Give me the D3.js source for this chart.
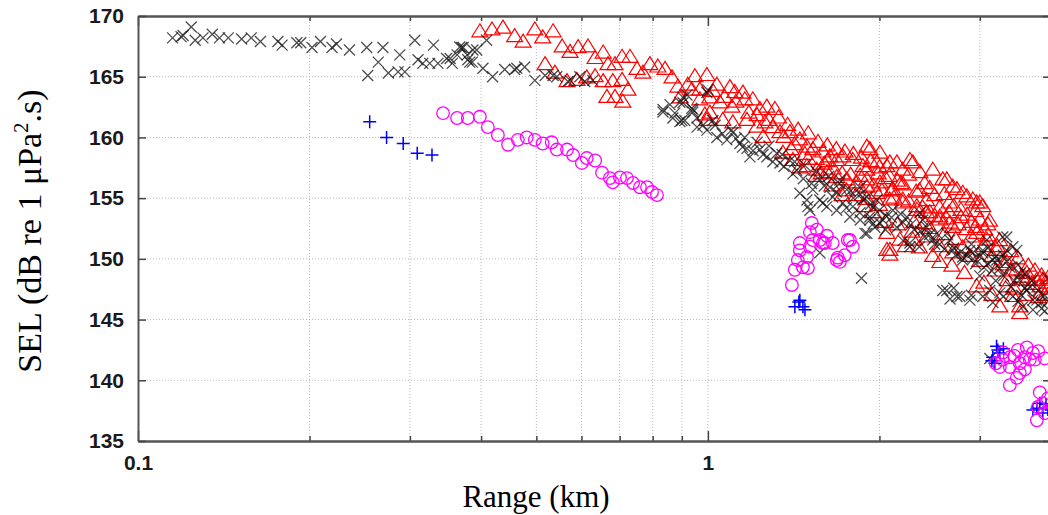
<!DOCTYPE html>
<html>
<head>
<meta charset="utf-8">
<script src="https://cdn.jsdelivr.net/npm/d3@7"></script>
<style>
  body { margin: 0; background: #fff; }
  svg { display: block; }
</style>
</head>
<body>
<div id="chart"></div>
<script>
// ---------------------------------------------------------------------
// data: [range (km), SEL (dB re 1 uPa^2.s)]

var blackX = [
  [0.115,168.2],[0.119,168.3],[0.120,168.4],[0.124,169.1],[0.126,168.0],[0.130,168.2],
  [0.135,168.5],[0.139,168.2],[0.144,168.2],[0.152,168.1],[0.158,168.2],[0.164,167.9],
  [0.176,167.9],[0.179,167.6],[0.190,167.8],[0.193,167.8],[0.202,167.4],[0.209,167.9],
  [0.219,167.4],[0.223,167.7],[0.235,167.2],[0.252,167.4],[0.264,166.2],[0.253,165.1],
  [0.269,167.4],[0.275,165.3],[0.288,166.8],[0.286,165.4],[0.294,165.4],[0.306,168.0],
  [0.310,166.4],[0.330,167.6],[0.316,166.1],[0.325,166.1],[0.336,166.1],[0.348,166.5],
  [0.356,166.1],[0.363,166.8],[0.370,167.4],[0.379,166.4],[0.387,167.2],[0.353,166.5],
  [0.372,167.4],[0.382,166.2],[0.367,167.45],[0.378,166.8],[0.386,166.2],[0.393,167.2],
  [0.409,168.0],[0.403,165.7],[0.419,165.0],[0.440,165.6],[0.458,165.6],[0.477,165.8],
  [0.497,164.7],[0.518,165.1],[0.543,165.0],[0.568,164.6],[0.596,165.0],[0.608,164.6],
  [0.462,165.7],[0.535,165.1],[0.573,164.7],[0.628,164.7],
  [0.834,162.1],[0.858,162.7],[0.893,162.9],[0.919,163.5],[0.868,161.6],[0.893,161.3],
  [0.941,162.1],[0.957,161.6],[0.996,163.7],[0.980,161.0],[0.834,162.3],[0.875,162.0],
  [0.900,161.4],[0.937,162.4],[0.904,163.3],[1.0,163.9],
  [0.904,162.85],[0.941,162.3],[0.911,161.4],[0.957,160.85],[0.996,160.6],[1.02,161.4],
  [1.037,160.0],[1.08,159.8],[1.106,160.4],[1.138,159.5],[1.171,159.1],[1.185,158.4],
  [1.234,159.0],[1.269,158.4],[1.321,158.7],[1.338,157.9],[1.393,158.1],[1.432,157.3],
  [1.45,155.4],[1.492,154.85],[1.498,154.3],[1.528,155.7],[1.572,154.85],[1.617,154.3],
  [1.656,155.1],[1.683,154.0],[1.725,154.6],[1.775,153.45],[1.796,154.3],[1.848,153.8],
  [1.886,152.1],[1.924,153.2],[1.963,152.6],[1.572,156.5],[1.637,155.9],[1.704,156.5],
  [1.753,155.7],[1.848,155.9],[1.901,155.1],[1.979,154.85],
  [1.51,154.0],[1.591,154.6],[2.028,153.2],[2.146,152.6],[2.262,151.3],[2.383,153.2],
  [2.522,152.1],[2.658,151.55],[2.80,149.9],[2.882,150.7],[3.036,150.5],[3.214,149.9],
  [3.346,151.8],[3.484,150.7],[3.526,148.8],[3.672,147.7],[3.778,146.6],[2.583,147.4],
  [2.735,146.9],[2.882,146.6],[3.036,146.9],[3.124,147.4],[1.572,150.5],[1.86,148.4],
  [3.124,141.8],
  [1.871,154.85],[1.924,153.45],[2.004,152.95],[1.901,152.1],[2.112,154.0],[2.234,153.45],
  [2.355,153.8],[2.262,151.0],[2.421,152.6],[2.481,151.55],[2.625,152.1],[2.69,150.7],
  [2.80,150.15],[2.917,150.5],[3.036,150.7],[3.087,151.55],[3.162,149.9],[3.292,151.8],
  [3.346,150.7],[3.428,151.0],[3.387,149.3],[3.526,148.25],[3.628,147.4],[3.718,146.6],
  [2.625,147.4],[2.768,146.9],[3.162,146.4],[3.253,147.2],[3.428,146.9],[3.569,146.05],
  [3.718,145.8],
  [1.06,160.3],[1.12,159.9],[1.15,159.2],[1.2,158.9],[1.25,158.6],[1.3,158.0],
  [1.36,157.6],[1.41,157.0],[1.47,156.6],[1.52,156.2],[1.6,156.0],[1.68,155.5],
  [1.8,155.0],[1.95,154.2],[2.05,153.6],[2.2,153.0],[2.3,152.4],[2.4,151.8],
  [2.55,151.2],[2.7,150.9],[2.85,150.3],[2.95,149.6],[3.05,149.3],[3.15,149.0],
  [3.3,148.6],[3.45,148.2],[3.6,147.6],[3.85,146.4],[3.3,150.3],[3.1,150.9],
  [2.9,151.2],[3.2,148.2],[3.4,147.7],[3.55,147.0],[3.9,145.7],
  [1.03,161.0],[1.1,160.6],[1.16,160.0],[1.22,159.6],[1.28,159.3],[1.35,158.6],
  [1.42,158.0],[1.48,157.7],[1.55,157.2],[1.63,156.8],[1.7,156.2],[1.78,155.6],
  [1.85,155.3],[1.93,154.5],[2.0,154.0],[2.1,153.4],[2.18,153.7],[2.27,152.8],
  [2.36,152.3],[2.45,152.0],[2.5,151.2],[2.6,150.8],[2.72,150.3],[2.78,150.6],
  [2.92,150.0],[3.0,150.2],[3.1,149.6],[3.2,150.2],[3.25,149.2],[3.35,149.8],
  [3.5,149.5],[3.6,148.8],[3.7,148.2],[3.8,147.4],[3.9,147.0],[3.0,148.6],
  [2.9,147.0],[2.7,147.6],[2.66,146.7],[3.3,146.9],[3.5,146.5],[3.85,145.9],
  [3.95,146.5],[3.95,148.4],[2.2,151.5],[2.35,151.0],[2.05,152.4],[1.95,152.9],
  [1.85,153.2],[1.75,154.2]
];

var redTri = [
  [0.398,168.7],[0.418,168.85],[0.437,169.0],[0.458,168.3],[0.474,167.85],[0.497,168.85],
  [0.513,168.2],[0.535,168.7],[0.555,167.45],[0.573,167.0],[0.592,167.4],[0.616,167.45],
  [0.634,166.5],[0.655,166.95],[0.668,166.0],[0.687,166.0],[0.707,166.6],[0.730,166.6],
  [0.751,165.6],[0.769,165.3],[0.791,166.0],[0.817,165.8],[0.841,165.6],[0.865,164.9],
  [0.886,164.15],[0.922,164.3],[0.949,165.0],[0.996,165.1],[1.037,164.3],
  [0.518,166.0],[0.539,165.3],[0.566,164.6],[0.589,164.7],[0.613,164.9],[0.634,165.0],
  [0.655,164.6],[0.681,164.6],[0.707,164.7],[0.665,163.3],[0.687,163.3],[0.709,162.9],
  [0.724,163.9],
  [0.893,163.25],[0.937,163.9],[0.968,163.9],[1.008,163.25],[0.988,161.85],[0.968,163.1],
  [1.05,162.85],[1.093,164.1],[1.115,163.7],[1.152,163.65],[1.161,163.1],[1.102,162.5],
  [1.199,163.1],[1.234,162.3],[1.269,162.5],[1.311,162.3],[1.008,162.0],[0.996,161.4],
  [1.062,161.4],[1.106,161.2],[1.171,161.4],[1.219,160.85],[1.259,161.2],[1.338,160.4],
  [1.393,160.4],[1.45,159.8],[1.492,159.2],[1.528,159.0],[1.591,158.8],[1.637,158.4],
  [1.683,158.1],[1.725,158.4],[1.796,158.1],[1.901,159.2],[1.871,157.6],[1.979,157.9],
  [2.061,157.6],[2.146,157.9],[2.198,157.3],[2.289,157.9],[2.355,157.1],[2.481,157.3],
  [2.583,156.5],[2.69,155.9],[2.80,155.4],[2.917,154.85],[3.0,154.6],
  [1.354,158.7],[1.41,158.1],[1.492,157.6],[1.553,157.3],[1.617,157.1],[1.683,156.7],
  [1.753,156.5],[1.826,156.25],[1.901,155.9],[1.979,155.4],[2.086,154.85],[2.198,154.6],
  [2.326,154.0],[2.452,153.8],[2.553,153.2],[2.658,152.95],
  [1.924,159.0],[2.004,158.7],[2.086,157.9],[2.262,158.1],[2.625,156.5],[2.735,155.7],
  [2.846,155.1],[2.963,154.6],[3.036,154.3],
  [1.901,156.5],[2.004,156.25],[2.112,155.7],[2.198,154.85],[2.326,154.3],[2.421,153.8],
  [2.553,153.45],[2.69,152.6],[2.846,152.4],[2.963,152.1],[3.087,151.55],[3.214,150.7],
  [3.346,149.7],[3.484,149.1],[3.628,148.8],[3.778,148.25],[3.932,148.0],
  [2.086,150.7],[2.061,152.1],[2.172,151.55],[2.289,151.55],[2.421,151.8],[2.553,149.7],
  [2.69,150.5],[2.963,147.7],[3.253,146.05],[3.526,146.05],[3.628,148.25],[3.823,147.7],
  [3.87,148.25],[3.346,147.7],[3.428,146.9],[2.061,150.7],[2.086,150.3],[3.526,145.5],
  [3.95,147.5],[3.9,147.0],
  [1.30,160.8],[1.36,160.0],[1.42,159.4],[1.48,158.6],[1.55,158.2],[1.6,157.8],
  [1.66,157.4],[1.72,157.0],[1.78,156.9],[1.85,156.8],[1.95,156.0],[2.02,155.6],
  [2.12,155.0],[2.25,154.7],[2.38,154.2],[2.5,153.5],[2.62,153.3],[2.75,152.8],
  [2.9,151.8],[3.05,151.0],[3.15,150.2],[3.3,149.5],[3.4,149.0],[3.55,148.5],
  [3.7,147.9],[1.25,160.0],[1.4,159.0],[1.58,157.0],[1.75,155.6],[1.9,154.9],
  [2.0,154.4],[2.3,153.0],[2.45,152.5],[2.6,152.0],[2.8,150.9],[3.2,149.0],
  [3.35,148.2],[2.08,156.8],[2.2,156.1],[2.35,155.6],[2.5,155.2],[2.7,154.3],
  [2.85,153.6],[3.0,153.2],[2.9,153.0],
  [1.02,163.8],[1.07,163.3],[1.12,162.9],[1.18,162.0],[1.22,161.8],[1.28,161.4],
  [1.33,161.6],[1.38,161.0],[1.44,160.6],[1.5,160.3],[1.56,159.6],[1.62,159.3],
  [1.68,159.0],[1.74,158.8],[1.80,158.6],[1.86,158.3],[1.93,158.0],[1.99,157.0],
  [2.05,156.6],[2.15,156.4],[2.25,156.9],[2.4,156.2],[2.45,155.8],[2.6,155.3],
  [2.65,154.6],[2.78,154.0],[2.95,153.9],[3.1,152.8],[3.25,151.5],[3.4,150.6],
  [3.5,150.0],[3.65,149.4],[3.75,149.0],[3.85,148.6],[3.95,148.4],[3.95,147.0],
  [3.8,146.8],[3.6,147.0],[3.45,147.5],[3.15,147.0],[3.05,148.0],[2.82,148.8],
  [2.68,149.4],[2.48,150.2],[2.35,150.9],[2.22,151.0],[2.15,152.8],[2.28,152.2],
  [2.4,152.9],[2.55,151.0],[2.72,151.6],[2.88,150.2],[3.0,149.8],[1.72,155.2],
  [1.82,155.2],[1.88,154.3],[1.95,153.8],[2.05,153.0],[2.1,155.6],[1.65,156.0],
  [1.55,156.8],[1.45,157.5],[1.5,158.2],[1.62,158.0],[1.9,157.3],[2.0,157.5],
  [2.18,156.2],[2.32,155.5],[2.42,154.8],[2.55,154.2],[2.65,153.8],[2.78,153.4],
  [2.95,152.6],[3.1,151.9],[3.22,151.0],[3.12,153.1],[3.06,152.4]
];

var magentaO = [
  [0.343,162.0],[0.363,161.6],[0.379,161.6],[0.398,161.7],[0.411,160.85],[0.428,160.2],
  [0.446,159.4],[0.464,159.8],[0.481,160.0],[0.497,159.8],[0.513,159.5],[0.532,159.6],
  [0.543,159.0],[0.566,159.0],[0.580,158.55],[0.601,157.9],[0.613,158.3],[0.634,158.1],
  [0.652,157.1],[0.673,156.65],[0.681,156.3],[0.701,156.7],[0.721,156.65],[0.739,156.25],
  [0.760,155.9],[0.782,155.9],[0.798,155.5],[0.814,155.25],
  [1.404,147.85],[1.421,149.1],[1.438,149.9],[1.45,150.7],[1.492,150.15],[1.498,149.25],
  [1.468,149.3],[1.51,151.0],[1.522,152.95],[1.51,152.2],[1.553,152.4],[1.572,151.55],
  [1.604,151.3],[1.617,151.9],[1.656,151.3],[1.69,150.1],[1.704,149.75],[1.738,150.3],
  [1.76,151.55],[1.796,151.0],[1.45,151.3],[1.528,151.55],[1.591,151.3],[1.683,149.9],
  [1.775,151.55],
  [3.387,141.9],[3.499,142.5],[3.628,142.7],[3.718,142.25],[3.672,141.7],[3.526,141.4],
  [3.387,141.1],[3.292,141.7],[3.253,141.1],[3.484,140.2],[3.387,139.6],[3.526,140.6],
  [3.598,141.9],[3.748,141.7],[3.2,141.4],[3.3,142.3],[3.45,142.0],[3.8,142.4],
  [3.9,141.8],[3.6,140.9],
  [3.823,139.0],[3.794,137.8],[3.778,136.7],[3.87,138.1],[3.901,137.3],[3.95,138.5]
];

var bluePlus = [
  [0.255,161.3],[0.273,160.0],[0.292,159.5],[0.309,158.7],[0.328,158.55],
  [1.421,146.05],[1.444,146.45],[1.468,146.05],[1.48,145.8],[1.45,146.6],
  [3.227,142.5],[3.188,141.4],[3.162,141.9],[3.253,142.25],[3.21,142.8],[3.15,141.6],
  [3.3,142.6],
  [3.778,137.7],[3.823,138.1],[3.718,137.55],[3.87,137.3],[3.95,137.6],[3.92,138.0]
];

var xDomain = [0.1, 4];
var yDomain = [135, 170];
var xLabelTicks = [0.1, 1];
var xMinorTicks = [0.2, 0.3, 0.4, 0.5, 0.6, 0.7, 0.8, 0.9, 2, 3];
var yTicks = [135, 140, 145, 150, 155, 160, 165, 170];

// ---------------------------------------------------------------------

var width = 1048, height = 515;
var plotLeft = 138, plotRight = 1051, plotTop = 16, plotBottom = 441;

var svg = d3.select("#chart").append("svg")
  .attr("width", width)
  .attr("height", height);

var x = d3.scaleLog().domain(xDomain).range([plotLeft, plotRight]);
var y = d3.scaleLinear().domain(yDomain).range([plotBottom, plotTop]);

// grid
var grid = svg.append("g")
  .attr("stroke", "#b8b8b8")
  .attr("stroke-width", 1)
  .attr("stroke-dasharray", "1,2");

grid.selectAll(".gx")
  .data(xMinorTicks.concat([1]))
  .enter().append("line")
  .attr("x1", function(d) { return x(d); })
  .attr("x2", function(d) { return x(d); })
  .attr("y1", plotTop)
  .attr("y2", plotBottom);

grid.selectAll(".gy")
  .data(yTicks.slice(1, -1))
  .enter().append("line")
  .attr("x1", plotLeft)
  .attr("x2", plotRight)
  .attr("y1", function(d) { return y(d); })
  .attr("y2", function(d) { return y(d); });

// markers
var plot = svg.append("g");

plot.selectAll(".tri")
  .data(redTri)
  .enter().append("path")
  .attr("d", "M0,-8L8,5L-8,5Z")
  .attr("transform", function(d) { return "translate(" + x(d[0]) + "," + y(d[1]) + ")"; })
  .attr("fill", "none")
  .attr("stroke", "#ff0000")
  .attr("stroke-width", 1.2);

plot.selectAll(".cross")
  .data(blackX)
  .enter().append("path")
  .attr("d", "M-5.5,-5.5L5.5,5.5M-5.5,5.5L5.5,-5.5")
  .attr("transform", function(d) { return "translate(" + x(d[0]) + "," + y(d[1]) + ")"; })
  .attr("fill", "none")
  .attr("stroke", "#111")
  .attr("stroke-opacity", 0.75)
  .attr("stroke-width", 1.3);

plot.selectAll(".plus")
  .data(bluePlus)
  .enter().append("path")
  .attr("d", "M-6.5,0L6.5,0M0,-6.5L0,6.5")
  .attr("transform", function(d) { return "translate(" + x(d[0]) + "," + y(d[1]) + ")"; })
  .attr("fill", "none")
  .attr("stroke", "#0000ff")
  .attr("stroke-width", 1.5);

plot.selectAll(".circ")
  .data(magentaO)
  .enter().append("circle")
  .attr("cx", function(d) { return x(d[0]); })
  .attr("cy", function(d) { return y(d[1]); })
  .attr("r", 6.3)
  .attr("fill", "none")
  .attr("stroke", "#ff00ff")
  .attr("stroke-width", 1.3);

// axes
function styleAxis(g) {
  g.selectAll(".domain").attr("stroke", "#555").attr("stroke-width", 2);
  g.selectAll(".tick line").attr("stroke", "#444").attr("stroke-width", 1.5);
  g.selectAll("text")
    .style("font-family", "'Liberation Sans', Arial, sans-serif")
    .style("font-weight", "bold")
    .style("font-size", "21px")
    .attr("fill", "#1a1a1a");
}

svg.append("g")
  .attr("transform", "translate(0," + plotBottom + ")")
  .call(d3.axisBottom(x).tickValues(xMinorTicks).tickSize(-5).tickSizeOuter(0).tickFormat(""))
  .call(styleAxis);

svg.append("g")
  .attr("transform", "translate(0," + plotBottom + ")")
  .call(d3.axisBottom(x).tickValues(xLabelTicks).tickSize(-10).tickSizeOuter(0)
        .tickPadding(14).tickFormat(d3.format("")))
  .call(styleAxis);

svg.append("g")
  .attr("transform", "translate(0," + plotTop + ")")
  .call(d3.axisTop(x).tickValues(xMinorTicks).tickSize(-5).tickSizeOuter(0).tickFormat(""))
  .call(styleAxis);

svg.append("g")
  .attr("transform", "translate(0," + plotTop + ")")
  .call(d3.axisTop(x).tickValues(xLabelTicks).tickSize(-10).tickSizeOuter(0).tickFormat(""))
  .call(styleAxis);

svg.append("g")
  .attr("transform", "translate(" + plotLeft + ",0)")
  .call(d3.axisLeft(y).tickValues(yTicks).tickSize(-8).tickSizeOuter(0).tickPadding(14))
  .call(styleAxis);

svg.append("g")
  .attr("transform", "translate(" + plotRight + ",0)")
  .call(d3.axisRight(y).tickValues(yTicks).tickSize(-8).tickSizeOuter(0).tickFormat(""))
  .call(styleAxis);

// axis titles
svg.append("text")
  .attr("x", 536)
  .attr("y", 507)
  .attr("text-anchor", "middle")
  .attr("font-family", "'Liberation Serif', 'Times New Roman', serif")
  .attr("font-size", 31)
  .attr("fill", "#000")
  .text("Range (km)");

var yTitle = svg.append("text")
  .attr("transform", "translate(41,231) rotate(-90)")
  .attr("text-anchor", "middle")
  .attr("font-family", "'Liberation Serif', 'Times New Roman', serif")
  .attr("font-size", 34)
  .attr("fill", "#000");
yTitle.append("tspan").text("SEL (dB re 1 \u03bcPa");
yTitle.append("tspan").attr("dy", -13).attr("font-size", 21).text("2");
yTitle.append("tspan").attr("dy", 13).text(".s)");
</script>
</body>
</html>
